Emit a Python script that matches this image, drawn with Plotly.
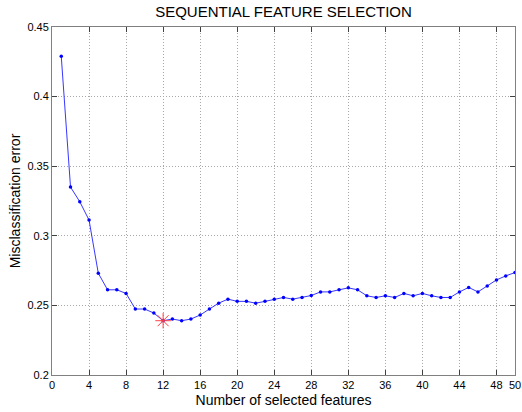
import plotly.graph_objects as go

n_features = list(range(1, 51))
error = [0.429, 0.335, 0.3245, 0.3113, 0.2731, 0.2612, 0.2612, 0.2586, 0.2474, 0.2474,
         0.2445, 0.239, 0.2402, 0.239, 0.2402, 0.2431, 0.2474, 0.2516, 0.2545, 0.2529,
         0.2529, 0.2516, 0.2529, 0.2544, 0.2557, 0.2545, 0.2557, 0.2571, 0.2597, 0.2597,
         0.2612, 0.2626, 0.2612, 0.2569, 0.2557, 0.2569, 0.2557, 0.2586, 0.2569, 0.2586,
         0.2569, 0.2557, 0.2557, 0.2597, 0.2629, 0.2597, 0.264, 0.2683, 0.2712, 0.2736]
best_n = 12
best_err = error[best_n - 1]

x_ticks = [0, 4, 8, 12, 16, 20, 24, 28, 32, 36, 40, 44, 48, 50]
y_ticks = [0.2, 0.25, 0.3, 0.35, 0.4, 0.45]
y_tick_labels = ["0.2", "0.25", "0.3", "0.35", "0.4", "0.45"]

FONT = "Liberation Sans, Arial, sans-serif"

fig = go.Figure()
fig.add_trace(go.Scatter(
    x=n_features, y=error, mode="lines+markers",
    line=dict(color="#2020ff", width=0.9),
    marker=dict(symbol="circle", size=3.5, color="#0000ff"),
    showlegend=False, hoverinfo="skip",
))
fig.add_trace(go.Scatter(
    x=[best_n], y=[best_err], mode="markers",
    marker=dict(symbol="asterisk-open", size=13, color="#ff4040",
                line=dict(color="#ff4040", width=1)),
    showlegend=False, hoverinfo="skip",
))

axis_common = dict(
    showgrid=True, gridcolor="#a8a8a8", griddash="1px,2px", gridwidth=1,
    showline=True, linecolor="#808080", linewidth=1, mirror="ticks",
    ticks="inside", ticklen=5, tickcolor="#404040",
    tickfont=dict(family=FONT, size=11, color="black"),
    zeroline=False, automargin=False,
)

fig.update_layout(
    width=522, height=412,
    margin=dict(l=52, r=7, t=27, b=37),
    paper_bgcolor="white", plot_bgcolor="white",
    title=dict(text="SEQUENTIAL FEATURE SELECTION", x=0.5, xref="paper", xanchor="center",
               y=0.971, yanchor="middle",
               font=dict(family=FONT, size=15, color="black")),
    xaxis=dict(range=[0, 50], tickvals=x_ticks,
               title=dict(text="Number of selected features", standoff=4,
                          font=dict(family=FONT, size=14, color="black")),
               **axis_common),
    yaxis=dict(range=[0.2, 0.45], tickvals=y_ticks, ticktext=y_tick_labels,
               title=dict(text="Misclassification error", standoff=3,
                          font=dict(family=FONT, size=14, color="black")),
               **axis_common),
)

# remove the default page margin so the figure fills the 522x412 window
fig.write_html("out.html", config={"displayModeBar": False},
               post_script="document.body.style.margin='0px';")
